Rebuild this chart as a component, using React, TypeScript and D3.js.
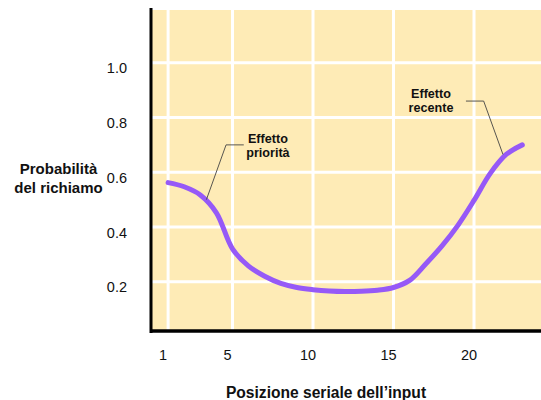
import React from "react";
import * as d3 from "d3";

// serial position curve (posizione 1..23)
const positions = d3.range(1, 24);
const recall = [
  0.562, 0.547, 0.517, 0.452, 0.32, 0.257, 0.22, 0.194, 0.179, 0.171, 0.166,
  0.164, 0.165, 0.169, 0.179, 0.205, 0.265, 0.33, 0.406, 0.497, 0.595, 0.665,
  0.7,
];
const xTicks = [1, 5, 10, 15, 20];
const yTicks = [0.2, 0.4, 0.6, 0.8, 1.0];

const annotations = [
  {
    lines: ["Effetto", "priorità"],
    text: [7.2, 0.708],
    leader: [
      [3.38, 0.5],
      [4.6, 0.7],
      [5.7, 0.7],
    ],
  },
  {
    lines: ["Effetto", "recente"],
    text: [17.33, 0.872],
    leader: [
      [19.5, 0.86],
      [20.6, 0.86],
      [21.8, 0.665],
    ],
  },
];

const W = 541;
const H = 400;
const font = "'Liberation Sans', Arial, sans-serif";

const x = d3.scaleLinear().domain([0, 24]).range([152, 538.4]);
const y = d3.scaleLinear().domain([0, 1.2]).range([336.5, 8]);

const App: React.FC = () => {
  const data = positions.map((p, i) => ({ p, v: recall[i] }));
  const line = d3
    .line<{ p: number; v: number }>()
    .x(d => x(d.p))
    .y(d => y(d.v))
    .curve(d3.curveCatmullRom.alpha(0.5));
  const leader = d3
    .line<number[]>()
    .x(d => x(d[0]))
    .y(d => y(d[1]));

  const top = 10;
  const bottom = 331;

  return (
    <svg
      width={W}
      height={H}
      style={{ position: "absolute", left: 0, top: 0, background: "#fff" }}
      fontFamily={font}
    >
      <rect x={152} y={top} width={W - 152} height={bottom - top} fill="#FEEBB6" />
      {/* grid */}
      {xTicks.map(t => (
        <line key={"gx" + t} x1={x(t)} x2={x(t)} y1={top} y2={bottom} stroke="#fff" strokeWidth={3} />
      ))}
      {yTicks.map(t => (
        <line key={"gy" + t} x1={152} x2={W} y1={y(t)} y2={y(t)} stroke="#fff" strokeWidth={3} />
      ))}
      {/* axes */}
      <line x1={151} x2={151} y1={8} y2={bottom + 2} stroke="#000" strokeWidth={3} />
      <line x1={150} x2={W} y1={bottom} y2={bottom} stroke="#000" strokeWidth={3.5} />

      {/* curve */}
      <path
        d={line(data) ?? ""}
        fill="none"
        stroke="#9659F7"
        strokeWidth={5}
        strokeLinecap="round"
        strokeLinejoin="round"
      />

      {/* annotations */}
      {annotations.map((a, i) => (
        <g key={"a" + i}>
          <path d={leader(a.leader) ?? ""} fill="none" stroke="#444" strokeWidth={0.9} />
          {a.lines.map((l, j) => (
            <text
              key={j}
              x={x(a.text[0])}
              y={y(a.text[1]) + j * 14.6}
              textAnchor="middle"
              fontSize={12.6}
              fontWeight="bold"
              fill="#111"
            >
              {l}
            </text>
          ))}
        </g>
      ))}

      {/* tick labels */}
      {xTicks.map(t => (
        <text key={"tx" + t} x={x(t) - 5} y={360} textAnchor="middle" fontSize={14.5} fill="#111">
          {t}
        </text>
      ))}
      {yTicks.map(t => (
        <text key={"ty" + t} x={127} y={y(t) + 10.5} textAnchor="end" fontSize={14.5} fill="#111">
          {t.toFixed(1)}
        </text>
      ))}

      {/* axis titles */}
      <text x={58.5} y={174} textAnchor="middle" fontSize={15} fontWeight="bold" fill="#111">
        Probabilità
      </text>
      <text x={58.5} y={192.5} textAnchor="middle" fontSize={15} fontWeight="bold" fill="#111">
        del richiamo
      </text>
      <text x={326} y={398} textAnchor="middle" fontSize={15.6} fontWeight="bold" fill="#111">
        Posizione seriale dell’input
      </text>
    </svg>
  );
};

export default App;
